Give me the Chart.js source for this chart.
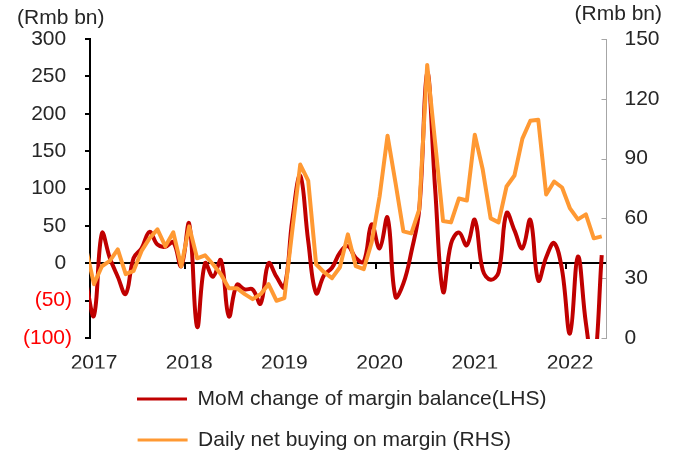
<!DOCTYPE html>
<html><head><meta charset="utf-8">
<script src="https://cdn.jsdelivr.net/npm/chart.js@4.4.1/dist/chart.umd.min.js"></script>
<style>html,body{margin:0;padding:0;background:#fff;}#wrap{width:676px;height:452px;}</style>
</head><body>
<div id="wrap"><canvas id="c" width="676" height="452"></canvas></div>
<script>
const months = [
  '2016-12',
  '2017-01','2017-02','2017-03','2017-04','2017-05','2017-06','2017-07','2017-08','2017-09','2017-10','2017-11','2017-12',
  '2018-01','2018-02','2018-03','2018-04','2018-05','2018-06','2018-07','2018-08','2018-09','2018-10','2018-11','2018-12',
  '2019-01','2019-02','2019-03','2019-04','2019-05','2019-06','2019-07','2019-08','2019-09','2019-10','2019-11','2019-12',
  '2020-01','2020-02','2020-03','2020-04','2020-05','2020-06','2020-07','2020-08','2020-09','2020-10','2020-11','2020-12',
  '2021-01','2021-02','2021-03','2021-04','2021-05','2021-06','2021-07','2021-08','2021-09','2021-10','2021-11','2021-12',
  '2022-01','2022-02','2022-03','2022-04','2022-05'
];
const marginChange = [
  -25,
  -70, 40, 7, -18, -41, 7, 20, 42, 25, 22, 28, -4,
  53, -85, 0, -18, 4, -71, -29, -35, -35, -54, 0, -18,
  -32, 58, 117, 30, -40, -16, -6, 14, 23, 7, 2, 52,
  20, 61, -45, -27, 15, 72, 255, 100, -38, 26, 41, 24,
  58, -9, -22, -12, 67, 44, 20, 58, -23, 8, 27, -9,
  -94, 9, -80, -140, 11
];
const dailyNetBuying = [
  45,
  27, 36, 38.7, 44.5, 32, 33.7, 43.7, 50, 54.5, 46, 53, 36,
  56, 40, 41.5, 37, 32, 25, 25, 22, 19.5, 22, 27, 18.7,
  20, 54, 87, 79, 37, 33, 30, 35.5, 52, 36, 34.5, 48,
  71, 101.5, 78, 53.5, 52.5, 64.5, 137, 98, 58.7, 58, 70, 69,
  102, 84.5, 60, 58, 76, 81.5, 100, 109, 109.5, 72, 78.5, 75.5,
  65, 59.5, 62, 50, 51
];
const yearLabels = ['2017','2018','2019','2020','2021','2022'];
const seriesNames = ['MoM change of margin balance(LHS)', 'Daily net buying on margin (RHS)'];
const unitLabel = '(Rmb bn)';

const FONT = '"Liberation Sans", Arial, Helvetica, sans-serif';
const TEXT = '#262626';
Chart.defaults.font.family = FONT;
Chart.defaults.font.size = 21;
Chart.defaults.color = TEXT;

function monthPos(s){ const p = s.split('-').map(Number); return (p[0]-2017)*12 + (p[1]-1) + 0.5; }
function yearPos(s){ return (Number(s)-2017)*12; }

const extras = {
  id: 'extras',
  beforeDatasetsDraw(chart){
    const ctx = chart.ctx, xs = chart.scales.x, yl = chart.scales.yLeft, yr = chart.scales.yRight;
    const y0 = Math.round(yl.getPixelForValue(0));
    ctx.save();
    ctx.strokeStyle = '#000'; ctx.lineWidth = 2;
    xs.ticks.forEach(t => {
      const px = Math.round(xs.getPixelForValue(t.value));
      if (px <= chart.chartArea.left + 2) return;
      ctx.beginPath(); ctx.moveTo(px, y0); ctx.lineTo(px, y0 + 6); ctx.stroke();
    });
    ctx.strokeStyle = '#A6A6A6'; ctx.lineWidth = 1;
    yr.ticks.forEach(t => {
      const py = Math.round(yr.getPixelForValue(t.value)) + 0.5;
      ctx.beginPath(); ctx.moveTo(yr.left - 5, py); ctx.lineTo(yr.left, py); ctx.stroke();
    });
    ctx.restore();
  },
  afterDraw(chart){
    const ctx = chart.ctx;
    ctx.save();
    ctx.font = '21px ' + FONT; ctx.fillStyle = TEXT; ctx.textBaseline = 'middle';
    ctx.textAlign = 'left'; ctx.fillText(unitLabel, 17, 18);
    ctx.textAlign = 'right'; ctx.fillText(unitLabel, 662, 14);
    ctx.restore();
  }
};

new Chart(document.getElementById('c'), {
  type: 'line',
  data: {
    datasets: [
      {
        label: seriesNames[0],
        data: months.map((m, i) => ({x: monthPos(m), y: marginChange[i]})),
        yAxisID: 'yLeft',
        borderColor: '#C00000', backgroundColor: '#C00000',
        borderWidth: 4, pointRadius: 0, tension: 0.4, order: 1, clip: 1
      },
      {
        label: seriesNames[1],
        data: months.map((m, i) => ({x: monthPos(m), y: dailyNetBuying[i]})),
        yAxisID: 'yRight',
        borderColor: '#FF9933', backgroundColor: '#FF9933',
        borderWidth: 4, pointRadius: 0, tension: 0, order: 0, clip: 1,
        borderJoinStyle: 'round'
      }
    ]
  },
  options: {
    responsive: false, animation: false, devicePixelRatio: 1,
    layout: { padding: { left: 7.5, right: 0, top: 39, bottom: -8.5 } },
    plugins: {
      tooltip: { enabled: false },
      legend: {
        position: 'bottom', align: 'center',
        labels: {
          boxWidth: 50, boxHeight: 3, padding: 20, color: TEXT, font: { size: 21 },
          generateLabels(chart) {
            const items = Chart.defaults.plugins.legend.labels.generateLabels(chart)
              .sort((a, b) => a.datasetIndex - b.datasetIndex);
            items.forEach(it => {
              const ds = chart.data.datasets[it.datasetIndex];
              it.fillStyle = ds.borderColor; it.strokeStyle = ds.borderColor; it.lineWidth = 0;
            });
            const ctx = chart.ctx; ctx.save(); ctx.font = '21px ' + FONT;
            const w = Math.max(...items.map(it => ctx.measureText(it.text).width));
            items.forEach(it => { while (ctx.measureText(it.text + ' ').width <= w + 3) it.text += ' '; });
            ctx.restore();
            return items;
          }
        }
      }
    },
    scales: {
      x: {
        type: 'linear', position: 'bottom', min: 0, max: 65.1,
        grid: { display: false, drawTicks: false }, border: { display: false },
        afterBuildTicks: s => { s.ticks = yearLabels.map(l => ({value: yearPos(l)})); },
        afterFit: s => { s.height = 30.5; },
        ticks: { padding: 13, labelOffset: 4, maxRotation: 0, autoSkip: false, color: TEXT,
                 callback: (v, i) => yearLabels[i] }
      },
      yLeft: {
        position: 'left', min: -100, max: 300,
        ticks: { stepSize: 50, padding: 13,
                 color: c => (c.tick && c.tick.value < 0) ? '#FF0000' : TEXT,
                 callback: v => v < 0 ? '(' + (-v) + ')' : v + ' ' },
        grid: {
          color: c => (c.tick && c.tick.value === 0) ? '#000000' : 'rgba(0,0,0,0)',
          lineWidth: 2, tickColor: '#000000', tickWidth: 2, tickLength: 5, drawTicks: true
        },
        border: { color: '#000000', width: 2 },
        afterFit: s => { s.width = 82.5; }
      },
      yRight: {
        position: 'right', min: 0, max: 150,
        ticks: { stepSize: 30, padding: 18, color: TEXT },
        grid: { display: false, drawTicks: false },
        border: { color: '#A6A6A6', width: 1 },
        afterFit: s => { s.width = 69.5; }
      }
    }
  },
  plugins: [extras]
});
</script>
</body></html>
